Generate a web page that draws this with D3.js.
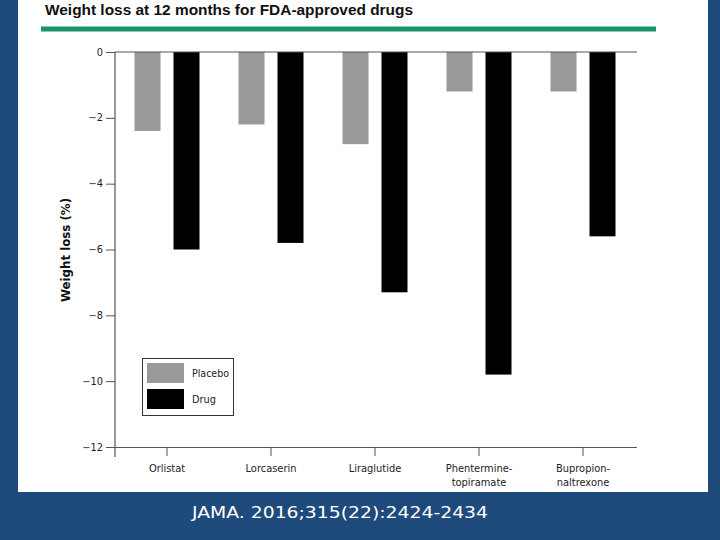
<!DOCTYPE html>
<html><head><meta charset="utf-8">
<script src="https://cdn.jsdelivr.net/npm/d3@7/dist/d3.min.js"></script>
<style>body{margin:0;padding:0;overflow:hidden}svg{display:block}</style>
</head><body>
<svg id="c" width="720" height="540"></svg>
<script>
const categories = ["Orlistat","Lorcaserin","Liraglutide","Phentermine-topiramate","Bupropion-naltrexone"];
const categoryLines = [["Orlistat"],["Lorcaserin"],["Liraglutide"],["Phentermine-","topiramate"],["Bupropion-","naltrexone"]];
const seriesNames = ["Placebo","Drug"];
const placebo = [-2.4, -2.2, -2.8, -1.2, -1.2];
const drug = [-6.0, -5.8, -7.3, -9.8, -5.6];
const yTicks = [0,-2,-4,-6,-8,-10,-12];
const colors = {Placebo:"#999999", Drug:"#000000"};

const svg = d3.select("#c");
svg.append("rect").attr("width",720).attr("height",540).attr("fill","#1f4a7c");
svg.append("rect").attr("x",18).attr("y",0).attr("width",690).attr("height",492).attr("fill","#ffffff");

svg.append("text").attr("x",45).attr("y",14.5)
  .attr("font-family","Liberation Sans, Arial, sans-serif").attr("font-weight","bold")
  .attr("font-size",15).attr("fill","#111")
  .attr("textLength",368).attr("lengthAdjust","spacingAndGlyphs")
  .text("Weight loss at 12 months for FDA-approved drugs");
svg.append("rect").attr("x",41).attr("y",26.5).attr("width",615).attr("height",5).attr("fill","#1a9468");

const y = d3.scaleLinear().domain([0,-12]).range([52,447]);
const x = d3.scaleBand().domain(categories).range([115,635]).padding(0);
const x1 = d3.scaleBand().domain(seriesNames).range([19.5,84.5]).paddingInner(1/3).paddingOuter(0);

const font = "DejaVu Sans, Verdana, sans-serif";

// bars
const rows = categories.map((c,i)=>({cat:c, vals:[{s:"Placebo",v:placebo[i]},{s:"Drug",v:drug[i]}]}));
const g = svg.append("g");
g.selectAll("g.grp").data(rows).join("g").attr("class","grp")
  .attr("transform",d=>`translate(${x(d.cat)},0)`)
  .selectAll("rect").data(d=>d.vals).join("rect")
  .attr("x",d=>x1(d.s)).attr("width",x1.bandwidth())
  .attr("y",y(0)).attr("height",d=>y(d.v)-y(0))
  .attr("fill",d=>colors[d.s]);

// zero line
svg.append("line").attr("x1",115).attr("x2",637).attr("y1",y(0)).attr("y2",y(0))
  .attr("stroke","#555").attr("stroke-width",1.2);

// y axis
const ya = svg.append("g").attr("transform","translate(115,0)")
  .call(d3.axisLeft(y).tickValues(yTicks).tickSize(9).tickPadding(3)
    .tickFormat(d=>d===0?"0":"\u2212"+Math.abs(d)));
ya.select(".domain").remove();
ya.selectAll(".tick line").attr("stroke","#555");
ya.selectAll(".tick text").attr("font-family",font).attr("font-size",9.8).attr("fill","#222");
svg.append("line").attr("x1",115).attr("x2",115).attr("y1",52).attr("y2",457)
  .attr("stroke","#555").attr("stroke-width",1.2);

// x axis
const xa = svg.append("g").attr("transform",`translate(0,${y(-12)})`)
  .call(d3.axisBottom(x).tickSize(9).tickSizeOuter(0));
xa.select(".domain").attr("stroke","#555").attr("stroke-width",1.2).attr("d","M115,0.5H637");
xa.selectAll(".tick line").attr("stroke","#555");
xa.selectAll(".tick text").remove();
xa.selectAll(".tick").each(function(d,i){
  const t = d3.select(this).append("text").attr("text-anchor","middle")
    .attr("font-family",font).attr("font-size",9.9).attr("fill","#222");
  categoryLines[i].forEach((ln,j)=>{
    t.append("tspan").attr("x",0).attr("y",25+j*13.5).text(ln);
  });
});

// y label
svg.append("text").attr("transform","translate(70,250) rotate(-90)")
  .attr("text-anchor","middle").attr("font-family",font).attr("font-weight","bold")
  .attr("font-size",11.8).attr("fill","#111").text("Weight loss (%)");

// legend
const lg = svg.append("g");
lg.append("rect").attr("x",142.5).attr("y",358.5).attr("width",91).attr("height",57)
  .attr("fill","#fff").attr("stroke","#333").attr("stroke-width",1);
const legendTextLen = [37, 24];
seriesNames.forEach((s,i)=>{
  lg.append("rect").attr("x",147).attr("y",363+i*26).attr("width",37).attr("height",20).attr("fill",colors[s]);
  lg.append("text").attr("x",192).attr("y",377+i*26).attr("font-family",font).attr("font-size",10.5)
    .attr("fill","#222").attr("textLength",legendTextLen[i]).attr("lengthAdjust","spacingAndGlyphs").text(s);
});

// citation
svg.append("text").attr("x",192).attr("y",518).attr("font-family",font).attr("font-size",16.5)
  .attr("fill","#ffffff").attr("textLength",296).attr("lengthAdjust","spacingAndGlyphs")
  .text("JAMA. 2016;315(22):2424-2434");
</script>
</body></html>
